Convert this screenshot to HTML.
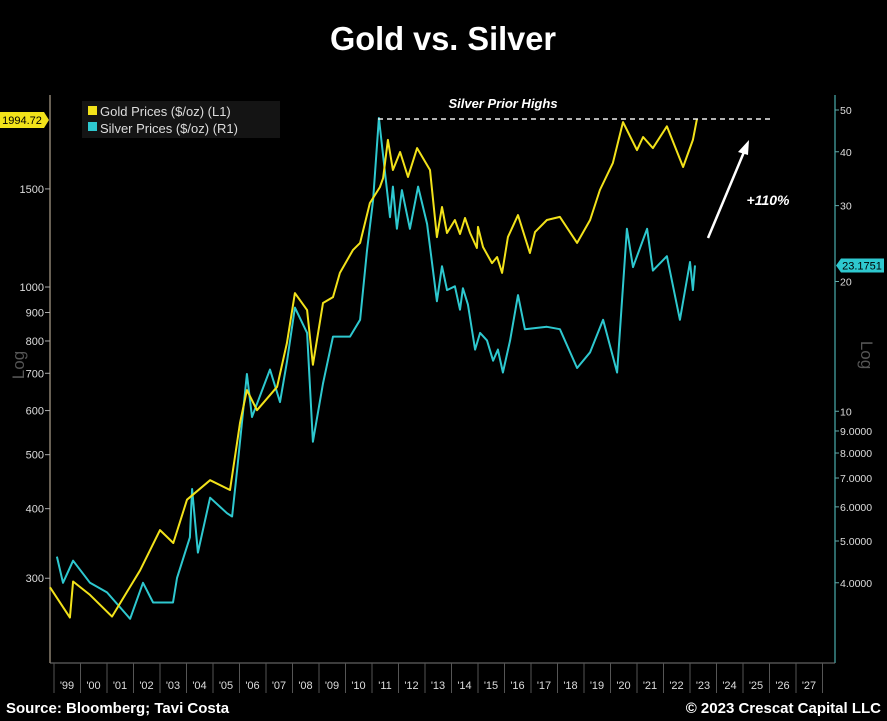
<!DOCTYPE html>
<html><head><meta charset="utf-8"><style>
html,body{margin:0;padding:0;background:#000;}
svg{display:block;font-family:"Liberation Sans",sans-serif;}
</style></head><body>
<svg id="chart" width="887" height="721" viewBox="0 0 887 721">
<rect x="0" y="0" width="887" height="721" fill="#000"/>
<text x="443" y="50" text-anchor="middle" font-size="33" font-weight="bold" fill="#fff" textLength="226" lengthAdjust="spacingAndGlyphs">Gold vs. Silver</text>
<g id="axes"></g>
<g id="series"></g>
<rect x="82" y="101" width="198" height="37" fill="#141414"/>
<rect x="88" y="106" width="9" height="9" fill="#f2e21a"/>
<text x="100" y="116" font-size="13" fill="#ddd">Gold Prices ($/oz) (L1)</text>
<rect x="88" y="122" width="9" height="9" fill="#2ec8cf"/>
<text x="100" y="133" font-size="13" fill="#ddd">Silver Prices ($/oz) (R1)</text>
<line x1="378" y1="119" x2="773" y2="119" stroke="#eee" stroke-width="1.5" stroke-dasharray="5,4"/>
<text x="503" y="108" text-anchor="middle" font-size="13" font-weight="bold" font-style="italic" fill="#fff">Silver Prior Highs</text>
<line x1="708" y1="238" x2="744" y2="152" stroke="#fff" stroke-width="2.5"/>
<polygon points="749,140 738,152 748,155" fill="#fff"/>
<text x="768" y="205" text-anchor="middle" font-size="14" font-weight="bold" font-style="italic" fill="#fff">+110%</text>
<text x="6" y="713" font-size="15" font-weight="bold" fill="#fff">Source: Bloomberg; Tavi Costa</text>
<text x="881" y="713" text-anchor="end" font-size="15" font-weight="bold" fill="#fff">© 2023 Crescat Capital LLC</text>
<text transform="translate(24,365) rotate(-90)" text-anchor="middle" font-size="17" fill="#555">Log</text>
<text transform="translate(861,355) rotate(90)" text-anchor="middle" font-size="17" fill="#555">Log</text>
</svg>
<script>
const goldYears=[1998.85,1999.6,1999.72,2000.36,2001.19,2002.25,2003.0,2003.5,2004.02,2004.89,2005.64,2006.02,2006.28,2006.66,2007.42,2007.79,2008.09,2008.55,2008.77,2009.15,2009.53,2009.79,2010.28,2010.55,2010.92,2011.3,2011.42,2011.6,2011.79,2012.06,2012.36,2012.7,2013.19,2013.45,2013.64,2013.83,2014.13,2014.32,2014.51,2014.7,2014.96,2015.0,2015.19,2015.53,2015.72,2015.91,2016.13,2016.51,2016.96,2017.15,2017.6,2018.09,2018.74,2019.23,2019.6,2020.09,2020.47,2021.0,2021.23,2021.6,2022.13,2022.74,2023.11,2023.26];
const goldValues=[289,255,296,280,256,310,366,347,415,450,432,570,653,601,662,793,975,909,725,936,959,1060,1165,1200,1415,1511,1568,1837,1622,1747,1576,1776,1622,1229,1392,1250,1319,1245,1330,1250,1175,1282,1180,1104,1132,1060,1229,1346,1151,1255,1319,1336,1200,1319,1493,1670,1977,1761,1859,1776,1943,1642,1837,2000];
const silverYears=[1999.11,1999.34,1999.72,2000.36,2001.0,2001.87,2002.36,2002.74,2003.49,2003.64,2004.13,2004.21,2004.43,2004.89,2005.53,2005.72,2005.91,2006.28,2006.47,2007.15,2007.53,2007.79,2008.09,2008.55,2008.77,2009.15,2009.53,2010.17,2010.55,2010.81,2011.04,2011.26,2011.68,2011.79,2011.94,2012.13,2012.43,2012.74,2013.08,2013.45,2013.64,2013.83,2014.13,2014.32,2014.43,2014.62,2014.89,2015.08,2015.34,2015.57,2015.75,2015.94,2016.21,2016.51,2016.77,2017.6,2018.09,2018.74,2019.23,2019.72,2020.25,2020.62,2020.85,2021.38,2021.6,2022.13,2022.62,2023.0,2023.11,2023.19];
const silverValues=[4.6,4.0,4.5,4.0,3.8,3.3,4.0,3.6,3.6,4.1,5.1,6.6,4.7,6.3,5.8,5.7,7.3,12.2,9.7,12.5,10.5,13.0,17.4,15.2,8.5,11.6,14.9,14.9,16.3,23.6,30.9,47.9,28.2,33.2,26.5,32.6,26.5,33.2,27.2,18.0,21.7,19.1,19.5,17.2,19.3,17.7,13.9,15.2,14.6,13.1,13.9,12.3,14.6,18.6,15.5,15.7,15.5,12.6,13.7,16.3,12.3,26.5,21.6,26.5,21.2,22.9,16.3,22.2,19.1,21.8];
const leftTicks=[300,400,500,600,700,800,900,1000,1500];
const rightTicks=[4,5,6,7,8,9,10,20,30,40,50];
const rightTickLabels=["4.0000","5.0000","6.0000","7.0000","8.0000","9.0000","10","20","30","40","50"];
const yearLabels=["'99","'00","'01","'02","'03","'04","'05","'06","'07","'08","'09","'10","'11","'12","'13","'14","'15","'16","'17","'18","'19","'20","'21","'22","'23","'24","'25","'26","'27"];
const goldLast=1994.72, silverLast=23.1751;

const NS="http://www.w3.org/2000/svg";
const xOf=t=>54+(t-1999)*26.5;
const yL=p=>287-557*Math.log10(p/1000);
const yR=v=>110+431*Math.log10(50/v);
function mk(tag,attrs,parent,text){const e=document.createElementNS(NS,tag);for(const k in attrs)e.setAttribute(k,attrs[k]);if(text!==undefined)e.textContent=text;parent.appendChild(e);return e;}
const axes=document.getElementById('axes'), series=document.getElementById('series');

let e=mk('line',{x1:50,y1:95,x2:50,y2:663,stroke:'#8a8070','stroke-width':1.5},axes);


e=mk('line',{x1:835,y1:95,x2:835,y2:663,stroke:'#3a8a8a','stroke-width':1.5},axes);


e=mk('line',{x1:50,y1:663,x2:835,y2:663,stroke:'#777','stroke-width':1},axes);



leftTicks.forEach(v=>{const y=yL(v);
 e=mk('line',{x1:45,y1:y,x2:50,y2:y,stroke:'#aaa'},axes);
 
 
 e=mk('text',{x:44,y:y+4,'text-anchor':'end','font-size':11,fill:'#ddd'},axes,String(v));
 
 
});
rightTicks.forEach((v,i)=>{const y=yR(v);
 e=mk('line',{x1:835,y1:y,x2:839,y2:y,stroke:'#6aa'},axes);
 
 
 e=mk('text',{x:840,y:y+4,'font-size':10.5,fill:'#ddd'},axes,rightTickLabels[i]);
 
 
});
yearLabels.forEach((lab,i)=>{const x0=xOf(1999+i);
 e=mk('line',{x1:x0,y1:663,x2:x0,y2:693,stroke:'#555'},axes);
 
 
 e=mk('text',{x:x0+13,y:689,'text-anchor':'middle','font-size':11,fill:'#ddd'},axes,lab);
 
 
});
e=mk('line',{x1:xOf(2028),y1:663,x2:xOf(2028),y2:693,stroke:'#555'},axes);



function pathOf(xs,vs,yf){return xs.map((t,i)=>(i?'L':'M')+xOf(t).toFixed(1)+','+yf(vs[i]).toFixed(1)).join(' ');}
e=mk('path',{d:pathOf(silverYears,silverValues,yR),fill:'none',stroke:'#2ec8cf','stroke-width':2,'stroke-linejoin':'round'},series);


e=mk('path',{d:pathOf(goldYears,goldValues,yL),fill:'none',stroke:'#f2e21a','stroke-width':2,'stroke-linejoin':'round'},series);



let gy=yL(goldLast);
e=mk('polygon',{points:`0,${gy-8} 44,${gy-8} 49,${gy} 44,${gy+8} 0,${gy+8}`,fill:'#f2e21a'},axes);


e=mk('text',{x:22,y:gy+4,'text-anchor':'middle','font-size':11,fill:'#000'},axes,goldLast.toFixed(2));


let sy=yR(silverLast*0.94);
e=mk('polygon',{points:`836,${sy} 841,${sy-7} 884,${sy-7} 884,${sy+7} 841,${sy+7}`,fill:'#2ec8cf'},axes);


e=mk('text',{x:862,y:sy+4,'text-anchor':'middle','font-size':11,fill:'#000'},axes,String(silverLast));


</script>
</body></html>
